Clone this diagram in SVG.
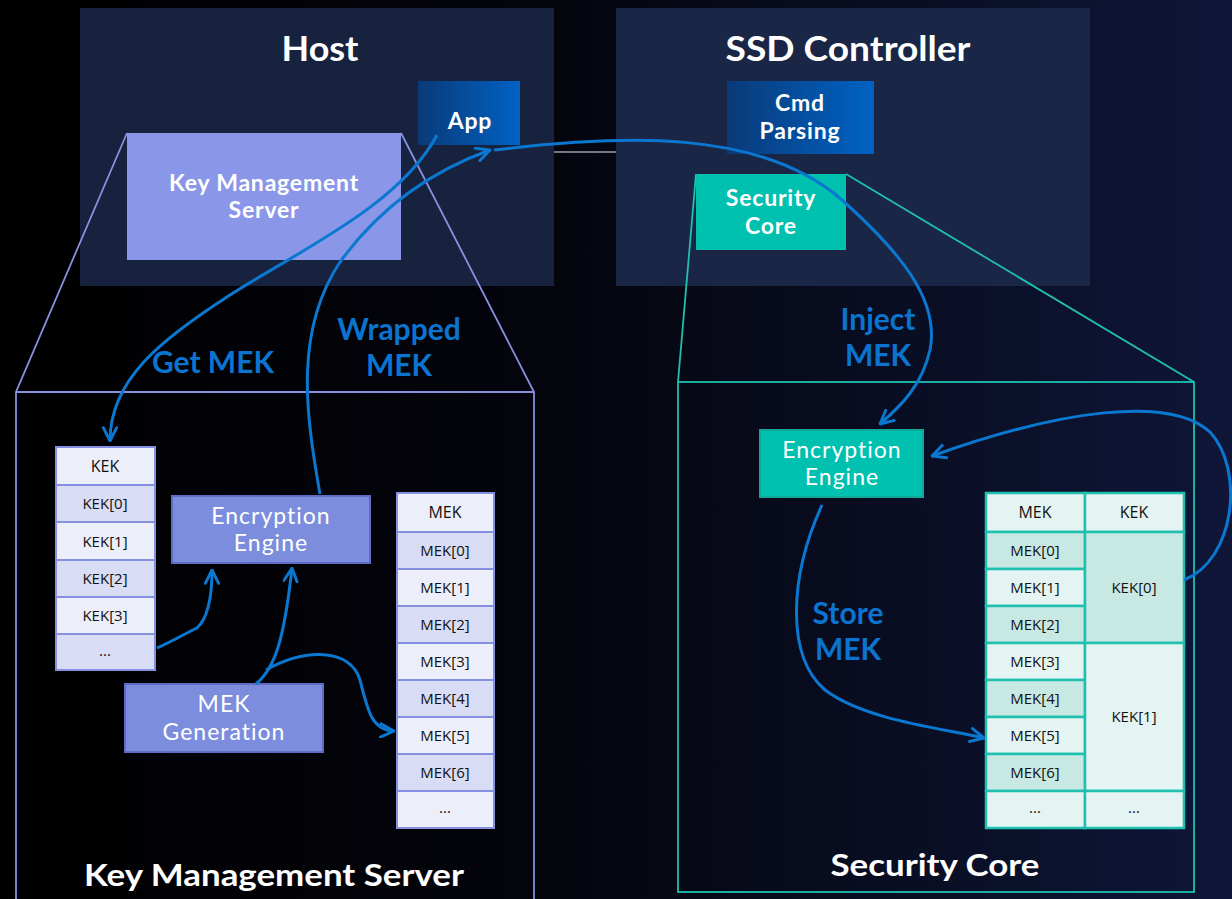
<svg xmlns="http://www.w3.org/2000/svg" width="1232" height="899" viewBox="0 0 1232 899">
<defs>
<linearGradient id="bg" x1="0" y1="0" x2="1" y2="0">
<stop offset="0" stop-color="#000000"/>
<stop offset="0.45" stop-color="#04050d"/>
<stop offset="1" stop-color="#0f1638"/>
</linearGradient>
<linearGradient id="blueg" x1="0" y1="0" x2="1" y2="0">
<stop offset="0" stop-color="#0a3a78"/>
<stop offset="1" stop-color="#0062c4"/>
</linearGradient>
<marker id="arr" viewBox="0 0 12 12" refX="11" refY="6" markerWidth="16" markerHeight="16" markerUnits="userSpaceOnUse" orient="auto">
<path d="M1,1 L11,6 L1,11" fill="none" stroke="#0a78d0" stroke-width="2.2" stroke-linecap="round" stroke-linejoin="round"/>
</marker>
<style>
.title{font-family:Lato,"Open Sans",sans-serif;font-weight:700;fill:#ffffff;text-anchor:middle}
.lbl{font-family:Lato,"Open Sans",sans-serif;fill:#ffffff;text-anchor:middle;font-size:23px;letter-spacing:1px}
.lblb{font-family:Lato,"Open Sans",sans-serif;font-weight:700;fill:#ffffff;text-anchor:middle;font-size:23px;letter-spacing:0.8px}
.cell{font-family:"Open Sans",Lato,sans-serif;fill:#111111;text-anchor:middle;font-size:15px}
.hdr{font-family:"Open Sans",Lato,sans-serif;fill:#111111;text-anchor:middle;font-size:16px}
.blue{font-family:Lato,"Open Sans",sans-serif;font-weight:700;fill:#0a74d0;text-anchor:middle;font-size:30px}
.conn{fill:none;stroke:#0a78d0;stroke-width:3;marker-end:url(#arr)}
.lc1{fill:#d8dcf4;stroke:#8690e0;stroke-width:2}
.lc2{fill:#eceefa;stroke:#8690e0;stroke-width:2}
.rc1{fill:#c8e8e4;stroke:#1fc0b0;stroke-width:2.5}
.rc2{fill:#e4f4f2;stroke:#1fc0b0;stroke-width:2.5}
</style>
</defs>
<rect x="0" y="0" width="1232" height="899" fill="url(#bg)"/>

<g id="host">
<rect x="80" y="8" width="474" height="278" fill="#17223f"/>
<text class="title" x="320" y="61" font-size="34" textLength="77" lengthAdjust="spacingAndGlyphs">Host</text>
</g>
<g id="ssd-controller">
<rect x="616" y="8" width="474" height="278" fill="#1a2646"/>
<text class="title" x="848" y="61" font-size="34" textLength="245" lengthAdjust="spacingAndGlyphs">SSD Controller</text>
</g>
<line x1="554" y1="152" x2="616" y2="152" stroke="#9aa0b0" stroke-width="1.5"/>

<g id="kms-zoom-outline" fill="none" stroke="#8890e0" stroke-width="1.8">
<polyline points="127,133 16,392 16,899"/>
<polyline points="401,133 534,392 534,899"/>
<line x1="16" y1="392" x2="534" y2="392"/>
</g>
<g id="sc-zoom-outline" fill="none" stroke="#1fc0b0" stroke-width="1.8">
<line x1="696" y1="174" x2="678" y2="382"/>
<line x1="846" y1="174" x2="1194" y2="382"/>
<rect x="678" y="382" width="516" height="510"/>
</g>

<g id="app">
<rect x="418" y="81" width="102" height="64" fill="url(#blueg)"/>
<text class="lblb" x="470" y="129">App</text>
</g>
<g id="kms">
<rect x="127" y="133" width="274" height="127" fill="#8a96e8"/>
<text class="lblb" x="264" y="191">Key Management</text>
<text class="lblb" x="264" y="218">Server</text>
</g>
<g id="cmd-parsing">
<rect x="727" y="81" width="147" height="73" fill="url(#blueg)"/>
<text class="lblb" x="800" y="111">Cmd</text>
<text class="lblb" x="800" y="139">Parsing</text>
</g>
<g id="security-core">
<rect x="696" y="174" width="150" height="76" fill="#00c0b0"/>
<text class="lblb" x="771" y="206">Security</text>
<text class="lblb" x="771" y="234">Core</text>
</g>

<g id="kek-table">
<rect class="lc2" x="56" y="447" width="99" height="38"/>
<rect class="lc1" x="56" y="485" width="99" height="37"/>
<rect class="lc2" x="56" y="522" width="99" height="38"/>
<rect class="lc1" x="56" y="560" width="99" height="37"/>
<rect class="lc2" x="56" y="597" width="99" height="37"/>
<rect class="lc1" x="56" y="634" width="99" height="36"/>
<text class="hdr" x="105" y="472">KEK</text>
<text class="cell" x="105" y="509">KEK[0]</text>
<text class="cell" x="105" y="547">KEK[1]</text>
<text class="cell" x="105" y="584">KEK[2]</text>
<text class="cell" x="105" y="621">KEK[3]</text>
<text class="cell" x="105" y="656">...</text>
</g>

<g id="enc-engine-left">
<rect x="172" y="496" width="198" height="67" fill="#7b8ddc" stroke="#5d6cc4" stroke-width="2"/>
<text class="lbl" x="271" y="524">Encryption</text>
<text class="lbl" x="271" y="551">Engine</text>
</g>
<g id="mek-generation">
<rect x="125" y="684" width="198" height="68" fill="#7b8ddc" stroke="#5d6cc4" stroke-width="2"/>
<text class="lbl" x="224" y="712">MEK</text>
<text class="lbl" x="224" y="740">Generation</text>
</g>

<g id="mek-table-left">
<rect class="lc2" x="397" y="493" width="97" height="39"/>
<rect class="lc1" x="397" y="532" width="97" height="37"/>
<rect class="lc2" x="397" y="569" width="97" height="37"/>
<rect class="lc1" x="397" y="606" width="97" height="37"/>
<rect class="lc2" x="397" y="643" width="97" height="37"/>
<rect class="lc1" x="397" y="680" width="97" height="37"/>
<rect class="lc2" x="397" y="717" width="97" height="37"/>
<rect class="lc1" x="397" y="754" width="97" height="37"/>
<rect class="lc2" x="397" y="791" width="97" height="37"/>
<text class="hdr" x="445" y="518">MEK</text>
<text class="cell" x="445" y="556">MEK[0]</text>
<text class="cell" x="445" y="593">MEK[1]</text>
<text class="cell" x="445" y="630">MEK[2]</text>
<text class="cell" x="445" y="667">MEK[3]</text>
<text class="cell" x="445" y="704">MEK[4]</text>
<text class="cell" x="445" y="741">MEK[5]</text>
<text class="cell" x="445" y="778">MEK[6]</text>
<text class="cell" x="445" y="813">...</text>
</g>

<g id="enc-engine-right">
<rect x="760" y="430" width="163" height="67" fill="#00c0b0" stroke="#12a898" stroke-width="2"/>
<text class="lbl" x="842" y="458">Encryption</text>
<text class="lbl" x="842" y="485">Engine</text>
</g>

<g id="mek-kek-table">
<rect class="rc2" x="986" y="493" width="99" height="39"/>
<rect class="rc2" x="1085" y="493" width="99" height="39"/>
<rect class="rc1" x="986" y="532" width="99" height="37"/>
<rect class="rc2" x="986" y="569" width="99" height="37"/>
<rect class="rc1" x="986" y="606" width="99" height="37"/>
<rect class="rc2" x="986" y="643" width="99" height="37"/>
<rect class="rc1" x="986" y="680" width="99" height="37"/>
<rect class="rc2" x="986" y="717" width="99" height="37"/>
<rect class="rc1" x="986" y="754" width="99" height="37"/>
<rect class="rc2" x="986" y="791" width="99" height="37"/>
<rect class="rc1" x="1085" y="532" width="99" height="111"/>
<rect class="rc2" x="1085" y="643" width="99" height="148"/>
<rect class="rc2" x="1085" y="791" width="99" height="37"/>
<text class="hdr" x="1035" y="518">MEK</text>
<text class="hdr" x="1134" y="518">KEK</text>
<text class="cell" x="1035" y="556">MEK[0]</text>
<text class="cell" x="1035" y="593">MEK[1]</text>
<text class="cell" x="1035" y="630">MEK[2]</text>
<text class="cell" x="1035" y="667">MEK[3]</text>
<text class="cell" x="1035" y="704">MEK[4]</text>
<text class="cell" x="1035" y="741">MEK[5]</text>
<text class="cell" x="1035" y="778">MEK[6]</text>
<text class="cell" x="1035" y="813">...</text>
<text class="cell" x="1134" y="593">KEK[0]</text>
<text class="cell" x="1134" y="722">KEK[1]</text>
<text class="cell" x="1134" y="813">...</text>
</g>

<g id="connectors">
<path class="conn" d="M437,135 C400,205 300,250 230,295 C160,340 110,380 110,441"/>
<path class="conn" d="M320,494 C305,410 295,330 340,262 C385,200 440,168 490,150"/>
<path class="conn" d="M494,150 C620,135 760,128 842,200 C900,252 940,300 930,350 C922,385 902,405 880,424"/>
<path class="conn" d="M1184,580 C1235,560 1245,470 1210,432 C1170,395 1060,410 932,456"/>
<path class="conn" d="M822,505 C790,575 785,655 825,690 C865,720 940,728 984,738"/>
<path class="conn" d="M157,648 C175,640 188,632 197,628 C208,618 212,595 212,570"/>
<path class="conn" d="M256,684 C275,668 284,640 292,568"/>
<path class="conn" d="M266,670 C305,648 350,648 360,680 C368,712 372,730 394,731"/>
</g>

<g id="labels">
<text class="blue" x="213" y="373">Get MEK</text>
<text class="blue" x="399" y="340">Wrapped</text>
<text class="blue" x="399" y="376">MEK</text>
<text class="blue" x="878" y="330">Inject</text>
<text class="blue" x="878" y="366">MEK</text>
<text class="blue" x="848" y="624">Store</text>
<text class="blue" x="848" y="660">MEK</text>
<text class="title" x="274" y="886" font-size="31" textLength="380" lengthAdjust="spacingAndGlyphs">Key Management Server</text>
<text class="title" x="935" y="876" font-size="31" textLength="209" lengthAdjust="spacingAndGlyphs">Security Core</text>
</g>
</svg>
